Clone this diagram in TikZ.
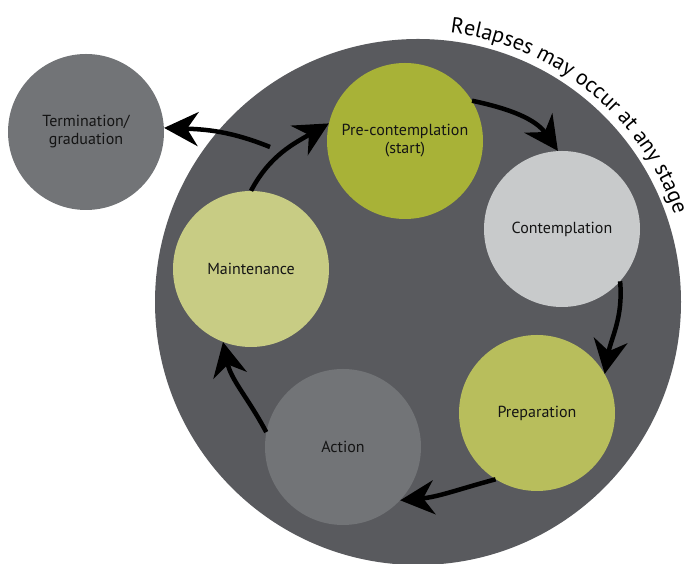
\documentclass[tikz,border=0pt]{standalone}
\usepackage{fontspec}
\setmainfont{PT Sans}
\usetikzlibrary{arrows.meta,decorations.text}
\definecolor{ring}{RGB}{89,90,94}
\definecolor{cpre}{RGB}{168,178,55}
\definecolor{ccont}{RGB}{200,202,203}
\definecolor{cprep}{RGB}{184,190,92}
\definecolor{cact}{RGB}{114,116,119}
\definecolor{cmaint}{RGB}{200,204,132}
\definecolor{txt}{RGB}{20,20,20}
\tikzset{
  stage/.style={circle, minimum size=156pt, inner sep=0pt, align=center,
    text=txt, font=\fontsize{16}{18}\selectfont},
  flow/.style={line width=4.5pt, -{Stealth[length=34pt,width=34pt,inset=11pt]}}
}
\begin{document}
\begin{tikzpicture}[x=1pt,y=1pt]
\useasboundingbox (0,0) rectangle (689,564);
\fill[ring] (418,262) circle[radius=263];
\path[decorate, decoration={text along path, text align=center,
  text={|\fontsize{22}{22}\selectfont|Relapses may occur at any stage}}]
  (418,262) ++(96:271) arc[start angle=96, end angle=6, radius=271];
\node[stage, fill=cpre] (pre) at (405,423) {Pre-contemplation\\(start)};
\node[stage, fill=ccont] (cont) at (562,335) {Contemplation};
\node[stage, fill=cprep] (prep) at (537,151) {Preparation};
\node[stage, fill=cact] (act) at (343,117) {Action};
\node[stage, fill=cmaint] (maint) at (251,295) {Maintenance};
\node[stage, fill=cact] (term) at (86,432) {Termination/\\graduation};
\coordinate (t0) at (270,417);
\draw[flow] (pre.31) to[out=-12, in=125] (cont.93);
\draw[flow] (cont.-42) to[out=-85, in=80] (prep.30);
\draw[flow] (prep.238) to[out=195, in=5] (act.-43);
\draw[flow] (act.169) to[out=118, in=-78] (maint.249);
\draw[flow] (maint.90) to[out=62, in=210] (pre.167);
\draw[flow] (t0) to[out=158, in=-2] (term.3);
\end{tikzpicture}
\end{document}
